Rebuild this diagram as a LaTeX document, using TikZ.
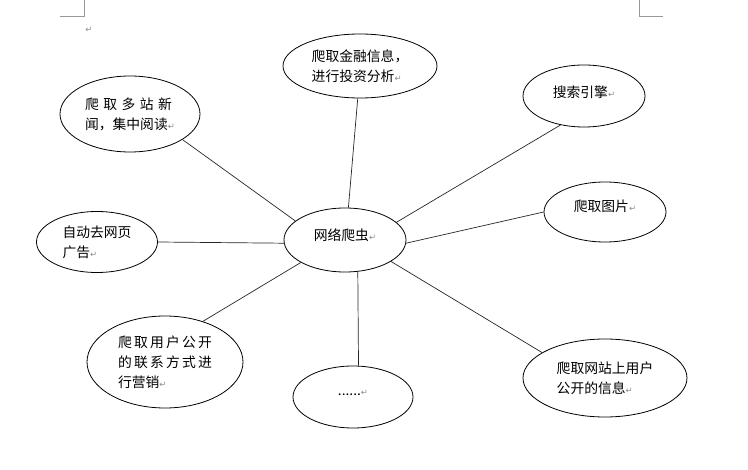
\documentclass[tikz,border=0pt]{standalone}
\usepackage{fontspec}
\setmainfont{Noto Sans CJK SC}
\newfontfamily\symfont{DejaVu Sans}
\usetikzlibrary{shapes.geometric}
\newcommand{\pmark}{{\symfont\fontsize{8.5}{8.5}\selectfont\textcolor{black!45}{↵}}}
\newcommand{\liftup}[2]{\raisebox{#1}[\height][\depth]{#2}}
\begin{document}
\begin{tikzpicture}[x=1pt,y=-1pt,
  every node/.style={font=\fontsize{13.8}{20}\selectfont},
  bub/.style={draw, ellipse, inner sep=0pt, line width=0.8pt, align=left},
  link/.style={line width=0.7pt, draw=black!85},
  crop/.style={draw=black!40, line width=0.8pt}]
\useasboundingbox (0,0) rectangle (748,470);
% page corner marks
\draw[crop] (60,16) -- (84,16) -- (84,0);
\draw[crop] (639,0) -- (639,16) -- (663,16);
\node[inner sep=0pt] (pm) at (89,30) {\pmark};
% nodes
\node[bub, minimum width=122pt, minimum height=64pt] (c) at (345,240) {\liftup{5pt}{网络爬虫\pmark}};
\node[bub, minimum width=154pt, minimum height=64pt] (fin) at (360,66) {爬取金融信息，\\进行投资分析\pmark};
\node[bub, minimum width=140pt, minimum height=76pt] (news) at (130,114) {\makebox[87pt][s]{爬\hfill 取\hfill 多\hfill 站\hfill 新}\\闻，集中阅读\pmark};
\node[bub, minimum width=122pt, minimum height=62pt] (search) at (584,96) {\liftup{4pt}{搜索引擎\pmark}};
\node[bub, minimum width=121pt, minimum height=61pt] (ads) at (97,242) {自动去网页\\广告\pmark};
\node[bub, minimum width=122pt, minimum height=60pt] (pics) at (605,212) {\liftup{6pt}{爬取图片\pmark}};
\node[bub, minimum width=156pt, minimum height=92pt] (mkt) at (165,362) {\makebox[94pt][s]{爬\hfill 取\hfill 用\hfill 户\hfill 公\hfill 开}\\\makebox[94pt][s]{的\hfill 联\hfill 系\hfill 方\hfill 式\hfill 进}\\行营销\pmark};
\node[bub, minimum width=120pt, minimum height=62pt] (dots) at (353,397) {\liftup{4pt}{......\pmark}};
\node[bub, minimum width=164pt, minimum height=78pt] (users) at (605,378) {爬取网站上用户\\公开的信息\pmark};
% connectors
\draw[link] (c.84.6) -- (fin.266.5);
\draw[link] (c.159.4) -- (news.334);
\draw[link] (c.19.8) -- (search.231);
\draw[link] (c.357) -- (pics.180);
\draw[link] (c.183) -- (ads.0);
\draw[link] (c.207) -- (mkt.47);
\draw[link] (c.292.6) -- (dots.80.8);
\draw[link] (c.335) -- (users.158.8);
\end{tikzpicture}
\end{document}
